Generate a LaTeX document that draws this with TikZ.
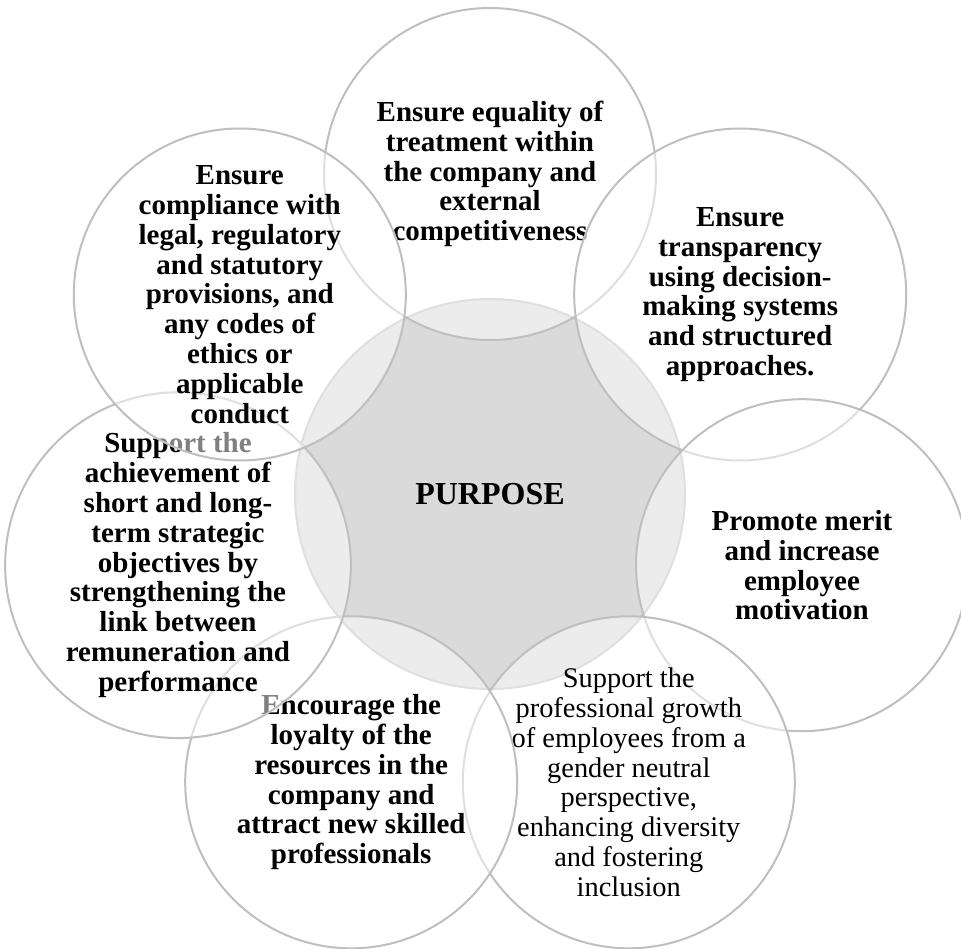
\documentclass[tikz,border=0pt]{standalone}
\usepackage{fontspec}
\setmainfont{Liberation Serif}
\definecolor{ringline}{RGB}{191,191,191}
\definecolor{hubfill}{RGB}{218,218,218}
\begin{document}
\begin{tikzpicture}[x=1pt,y=-1pt,
  hub/.style={circle, draw=ringline, line width=2pt, fill=hubfill, minimum size=390pt, inner sep=0pt,
    font=\fontsize{32}{34}\selectfont\bfseries},
  petal/.style={circle, draw=ringline, line width=2pt, fill=white, fill opacity=0.5, draw opacity=1,
    text opacity=1, minimum size=332pt, inner sep=0pt, align=center,
    font=\fontsize{29}{29.8}\selectfont\bfseries},
  petalreg/.style={petal, font=\fontsize{28.4}{29.8}\selectfont}]
\useasboundingbox (0,0) rectangle (961,949);
\clip (0,0) rectangle (961,949);
\node[hub] (hub) at (490,494) {PURPOSE};
\node[petal] (p1) at (490,174) {Ensure equality of\\treatment within\\the company and\\external\\competitiveness};
\node[petal] (p2) at (740.2,294.5) {Ensure\\transparency\\using decision-\\making systems\\and structured\\approaches.};
\node[petal] (p3) at (802,565.2) {Promote merit\\and increase\\employee\\motivation};
\node[petalreg] (p4) at (628.8,782.3) {Support the\\professional growth\\of employees from a\\gender neutral\\perspective,\\enhancing diversity\\and fostering\\inclusion};
\node[petal] (p5) at (351.2,782.3) {Encourage the\\loyalty of the\\resources in the\\company and\\attract new skilled\\professionals};
\node[petal] (p6) at (178,565.2) {Support the\\achievement of\\short and long-\\term strategic\\objectives by\\strengthening the\\link between\\remuneration and\\performance};
\node[petal] (p7) at (239.8,294.5) {Ensure\\compliance with\\legal, regulatory\\and statutory\\provisions, and\\any codes of\\ethics or\\applicable\\conduct};
\end{tikzpicture}
\end{document}
